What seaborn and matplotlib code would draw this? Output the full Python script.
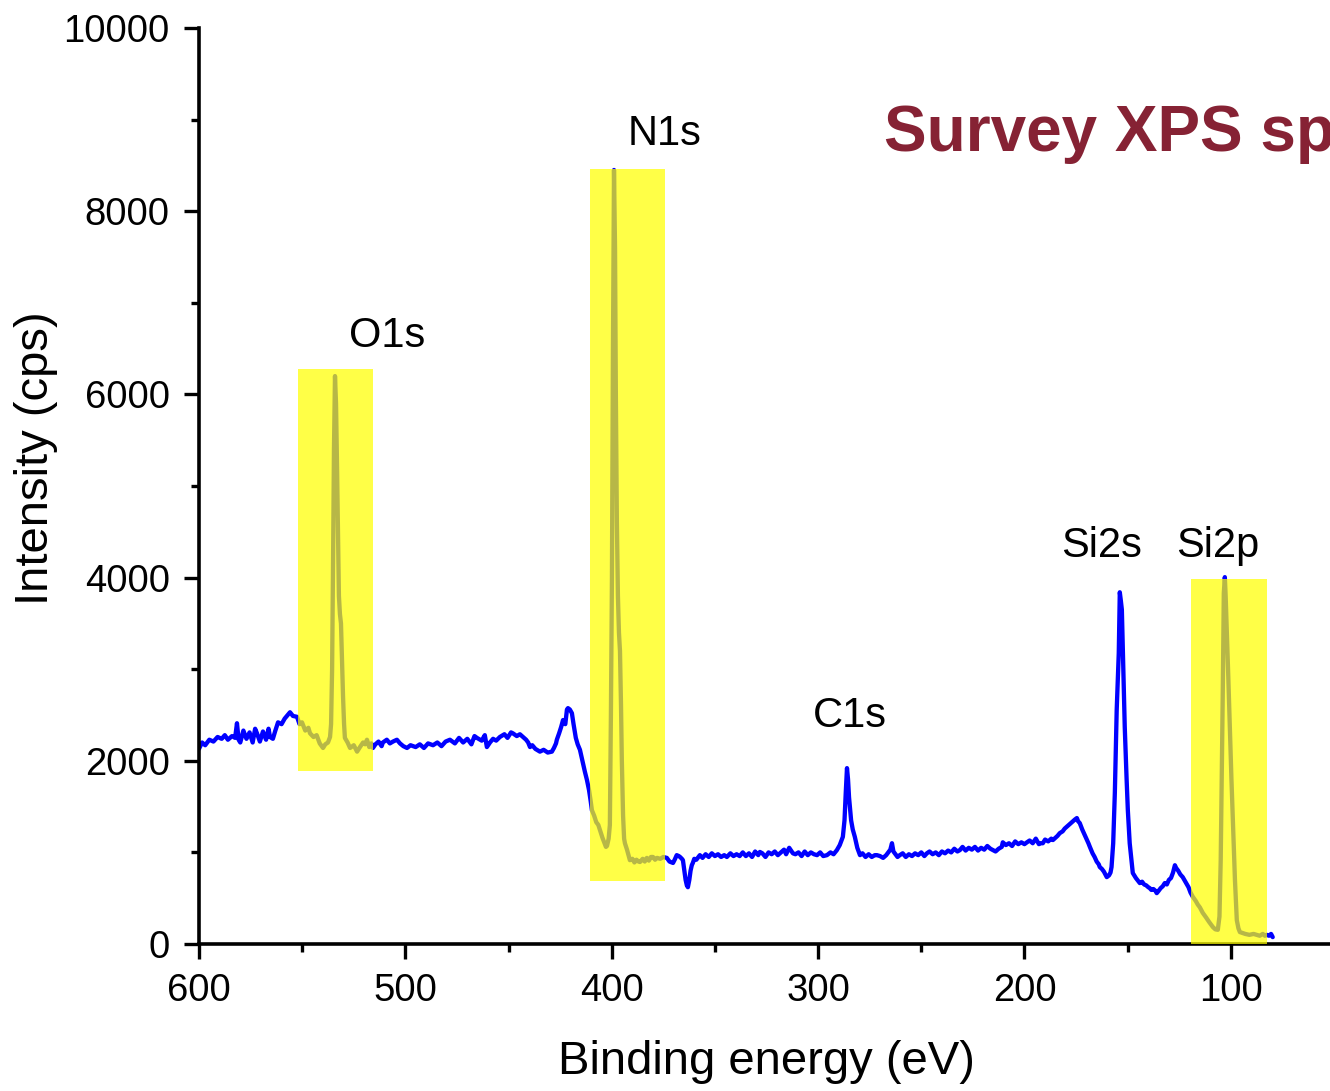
import numpy as np
import pandas as pd
import matplotlib
matplotlib.use("Agg")
import matplotlib.pyplot as plt
from matplotlib.patches import Rectangle
from matplotlib.ticker import MultipleLocator
import seaborn as sns

# Survey spectrum: binding energy (eV) and intensity (cps)
binding_energy = [
    600, 598.5, 597, 595, 593, 591, 589, 587.5, 586, 584, 582.5, 581.6, 580.8, 580, 578.5, 577, 575.5, 574,
    572.8, 571.9, 570.5, 569, 567.5, 566.3, 565.6, 564.2, 563, 561.7, 560, 558.5, 557, 555.9, 554.5, 552.5,
    551.3, 550.1, 548.5, 547, 546.2, 544.5, 543, 541.5, 539.9, 538.8, 537.5, 536.5, 536.0, 535.5, 535.1,
    534.6, 534.1, 533.6, 533.1, 532.6, 532.2, 531.7, 531.2, 530.7, 530.2, 529.7, 529.3, 528, 526.8, 525,
    523.4, 522, 520.5, 519.5, 518.6, 517.5, 516.5, 515.7, 514.5, 513, 511.5, 510.9, 509, 507.5, 506, 504.1,
    502.6, 501, 499.2, 497.5, 495, 493, 491, 489, 486.6, 484.5, 482.5, 480.5, 478.4, 476, 474, 472, 470,
    468, 466.5, 465.3, 463, 461.5, 460.5, 459, 457.5, 456, 454.2, 452, 450.5, 448.8, 447.9, 446, 444.5,
    443, 441.5, 440.5, 439.6, 438.5, 437, 435.5, 434.8, 433, 431, 429, 428, 427, 426.6, 425.5, 424.5,
    423.6, 422.5, 421.7, 421.2, 420.3, 419.3, 418.5, 417.4, 416.5, 415.4, 414, 413, 412, 411, 410.2, 409.6,
    408.5, 407.5, 406.5, 405.7, 404.5, 403.5, 402.8, 402.3, 401.5, 400.9, 400.4, 399.9, 399.4, 398.9,
    398.4, 398.0, 397.5, 397.0, 396.5, 396.0, 395.5, 395.1, 394.5, 394, 393.6, 392.6, 391.2, 390, 389,
    388, 387, 386.3, 385, 384, 383, 382, 381, 380, 379, 378, 376.5, 375, 373.3, 372, 370.3, 369.5, 368.5,
    367.5, 366.9, 366, 365.5, 364.8, 364.2, 363.6, 363.1, 362.4, 361.8, 361.2, 360.7, 360, 359, 357.3,
    356, 354.5, 353, 351.5, 350, 348.5, 347, 345.5, 344.2, 342.5, 341, 339.5, 338, 336.5, 335, 333.5,
    332, 330.5, 329, 328.2, 327, 325.5, 324, 322.5, 321, 319.5, 318, 316.5, 315.5, 314, 312.2, 311,
    309.5, 308, 306.5, 305, 303.5, 302, 300.5, 299, 297.5, 295.7, 294, 292.5, 290.9, 289.5, 288.0, 287.2,
    286.6, 286.0, 285.5, 285.0, 284.6, 284, 283.2, 282.2, 281, 279.7, 278.5, 277, 275.5, 274, 272.5,
    271.5, 270, 268.5, 267, 266, 265, 264.2, 263.5, 262.5, 261.5, 260.4, 259, 257.5, 256, 254.5, 253,
    251.5, 250, 248.5, 247.3, 246, 244.5, 243, 241.5, 240, 238.5, 237, 235.5, 234, 232.5, 231.3, 230,
    228.5, 227, 225.5, 224, 222.5, 221, 219.5, 218, 216.5, 215.3, 214, 212.5, 211, 210.5, 209, 207.5,
    206, 204.5, 203, 201.5, 200, 198.8, 197.5, 196, 194.5, 193, 192.5, 191.1, 190, 188.5, 187, 186.2,
    185, 184, 182.9, 181.5, 180.5, 179.5, 178.5, 177.5, 176.5, 175.5, 174.6, 174, 173.2, 172, 171, 170,
    169, 168.3, 167, 166, 165, 164, 163.5, 162.5, 161.5, 160.1, 159, 158.3, 157.8, 157, 156.2, 155.3,
    154.3, 153.8, 153.3, 152.8, 152.3, 151.4, 150.5, 149.9, 149, 148, 147.5, 146, 144.1, 143, 142, 141,
    140, 139.3, 138.5, 137.5, 136.5, 135.9, 135, 134, 133, 132, 131, 130, 129, 128, 127.1, 126.5, 125.5,
    124.5, 123.3, 122, 120.5, 119.5, 118.4, 117, 116, 115, 113.6, 112, 110.5, 109.5, 108.7, 107.5, 106.3,
    105.5, 104.9, 104.4, 103.9, 103.4, 102.9, 102.5, 102.0, 101.2, 100.5, 99.7, 99.0, 98.0, 97.1, 96.3,
    95.6, 93, 91, 89, 87.4, 86, 84.5, 83.5, 82.6, 81.5, 80.5, 79.7,
]
intensity = [
    2130, 2200, 2170, 2230, 2210, 2260, 2240, 2280, 2230, 2270, 2250, 2410, 2230, 2200, 2330, 2240, 2310, 2200,
    2350, 2300, 2210, 2320, 2230, 2350, 2260, 2240, 2330, 2420, 2400, 2460, 2500, 2530, 2490, 2480,
    2400, 2420, 2330, 2360, 2300, 2260, 2280, 2190, 2140, 2180, 2200, 2260, 2400, 3000, 4000,
    5400, 6200, 5900, 5200, 4400, 3800, 3600, 3500, 3100, 2700, 2400, 2250, 2200, 2140, 2170,
    2100, 2150, 2200, 2180, 2230, 2150, 2190, 2140, 2180, 2210, 2160, 2200, 2230, 2190, 2210, 2230,
    2190, 2160, 2140, 2170, 2150, 2180, 2140, 2190, 2170, 2200, 2160, 2210, 2230, 2190, 2250, 2200, 2240,
    2180, 2270, 2250, 2220, 2280, 2150, 2200, 2240, 2220, 2260, 2290, 2250, 2310, 2300, 2270, 2290,
    2260, 2230, 2200, 2150, 2170, 2130, 2110, 2100, 2120, 2090, 2100, 2140, 2190, 2230, 2300, 2370,
    2445, 2400, 2560, 2575, 2560, 2520, 2400, 2250, 2180, 2120, 1980, 1880, 1790, 1680, 1560, 1460,
    1400, 1330, 1300, 1245, 1160, 1100, 1060, 1070, 1150, 1300, 2500, 4000, 6500, 8450,
    7600, 6000, 4600, 3800, 3400, 3200, 2600, 2000, 1400, 1150, 1100, 1030, 915, 930, 890,
    920, 900, 895, 930, 900, 940, 910, 950, 950, 920, 940, 930, 950, 940, 900, 885, 920, 970,
    960, 950, 930, 915, 800, 700, 640, 620, 700, 800, 860, 885, 930, 920, 970,
    940, 980, 950, 990, 960, 980, 950, 970, 950, 990, 960, 980, 960, 1000, 960, 990,
    950, 1010, 970, 1005, 990, 950, 1000, 980, 1010, 970, 1000, 1030, 980, 1050, 990, 980,
    1000, 960, 1010, 970, 1000, 980, 970, 1000, 960, 970, 1000, 980, 1025, 1080, 1170, 1350,
    1650, 1920, 1800, 1600, 1500, 1350, 1250, 1170, 1050, 970, 990, 950, 980, 950, 970,
    970, 960, 940, 970, 1000, 1030, 1100, 1010, 980, 950, 970, 990, 950, 980, 960, 990,
    970, 1000, 960, 990, 1010, 980, 1000, 970, 1010, 990, 1020, 1000, 1040, 1010, 1025, 1060,
    1020, 1050, 1030, 1060, 1020, 1050, 1030, 1070, 1040, 1025, 1010, 1040, 1060, 1110, 1080, 1100,
    1070, 1120, 1090, 1110, 1090, 1110, 1130, 1100, 1150, 1090, 1100, 1100, 1140, 1120, 1150, 1135,
    1160, 1180, 1210, 1230, 1260, 1280, 1300, 1320, 1340, 1360, 1375, 1340, 1320, 1250, 1200, 1150,
    1100, 1060, 990, 950, 900, 870, 840, 820, 790, 730, 750, 780, 840, 1100, 1650, 2555,
    3175, 3840, 3750, 3650, 3175, 2370, 1800, 1460, 1100, 880, 775, 720, 665, 680, 650, 640,
    620, 610, 590, 600, 580, 555, 580, 610, 630, 665, 650, 700, 720, 780, 860, 830, 800,
    760, 730, 680, 620, 560, 515, 470, 430, 400, 340, 290, 240, 210, 185, 160, 155,
    300, 915, 1800, 2740, 3830, 4005, 3800, 3460, 2900, 2370, 1800, 1355, 700, 260, 170,
    130, 110, 100, 110, 100, 90, 110, 90, 100, 90, 110, 75,
]

# Highlighted regions
box_left = [552, 410.6, 119.4]
box_right = [515.7, 374.2, 82.6]
box_bottom = [1890, 690, 0]
box_top = [6280, 8460, 3985]

# Peak assignments
peak_names = ["O1s", "N1s", "C1s", "Si2s", "Si2p"]
peak_x = [509, 374.2, 284.6, 162.5, 106.3]
peak_y = [6640, 8840, 2490, 4345, 4345]

x_ticks = [600, 500, 400, 300, 200, 100]
y_ticks = [0, 2000, 4000, 6000, 8000, 10000]

sns.set_style("ticks")
plt.rcParams["font.family"] = ["Liberation Sans", "DejaVu Sans"]
plt.rcParams["text.color"] = "black"
plt.rcParams["axes.labelcolor"] = "black"

W, H = 1330, 1091
fig = plt.figure(figsize=(W / 100, H / 100), dpi=100)
ax = fig.add_axes([199 / W, (H - 944) / H, (1334 - 199) / W, (944 - 28) / H])

df = pd.DataFrame({"Binding energy (eV)": binding_energy, "Intensity (cps)": intensity})
sns.lineplot(data=df, x="Binding energy (eV)", y="Intensity (cps)", sort=False,
             estimator=None, color="#0000FF", linewidth=3.1, ax=ax, zorder=2)

for l, r, b, t in zip(box_left, box_right, box_bottom, box_top):
    ax.add_patch(Rectangle((r, b), l - r, t - b, facecolor="#FFFF00", alpha=0.72,
                           edgecolor="none", zorder=3))

for name, px, py in zip(peak_names, peak_x, peak_y):
    ax.text(px, py, name, ha="center", va="center", fontsize=30, color="black", zorder=4)

ax.set_xlim(600, 50)
ax.set_ylim(0, 10000)
ax.set_xticks(x_ticks)
ax.set_yticks(y_ticks)
ax.xaxis.set_minor_locator(MultipleLocator(50))
ax.yaxis.set_minor_locator(MultipleLocator(1000))

for side in ["top", "right"]:
    ax.spines[side].set_visible(False)
for side in ["left", "bottom"]:
    ax.spines[side].set_linewidth(2.6)
    ax.spines[side].set_color("black")

ax.tick_params(which="major", direction="out", length=11, width=2.4, labelsize=27.5,
               pad=10, colors="black")
ax.tick_params(which="minor", direction="out", length=6, width=2.4, colors="black")

ax.set_xlabel("Binding energy (eV)", fontsize=34, color="black")
ax.set_ylabel("Intensity (cps)", fontsize=34, color="black")
ax.xaxis.set_label_coords(0.5, -0.105)
ax.yaxis.set_label_coords(-0.124, 0.53)

fig.text(884 / W, 1 - 151 / H, "Survey XPS spectrum", fontsize=46, fontweight="bold",
         color="#862234", ha="left", va="baseline")

fig.savefig("out.png", dpi=100)
